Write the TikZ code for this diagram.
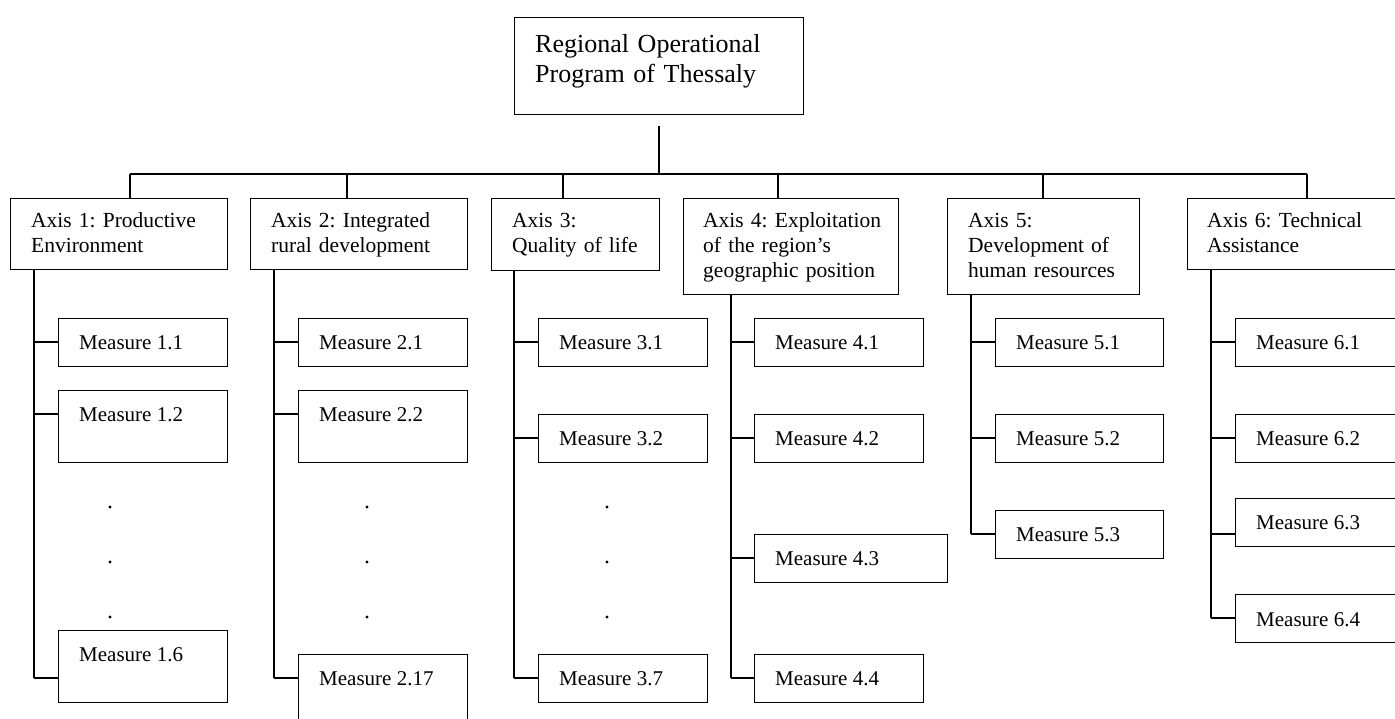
\documentclass[tikz,border=0pt]{standalone}
\usepackage{fontspec}
\setmainfont{Liberation Serif}
\frenchspacing
\begin{document}
\begin{tikzpicture}[x=1pt,y=-1pt,
  box/.style={draw, rectangle, line width=1.3pt, inner sep=0pt, anchor=north west},
  wire/.style={line width=1.3pt},
  roottext/.style={anchor=base west, inner sep=0pt, align=left, text width=280pt,
    font=\fontsize{26}{30}\selectfont},
  axistext/.style={anchor=base west, inner sep=0pt, align=left, text width=200pt,
    font=\fontsize{21.5}{25}\selectfont},
  mtext/.style={anchor=base west, inner sep=0pt, font=\fontsize{21}{25}\selectfont}]
\useasboundingbox (0,0) rectangle (1395,719);
\clip (0,0) rectangle (1395,719);

% box given by its corners: name, x1, y1, x2, y2
\newcommand\mkbox[5]{\node[box, minimum width={#4-#2}, minimum height={#5-#3}] (#1) at (#2,#3) {};}
% measure: name, x1, y1, x2, y2, branch y, text baseline, label, spine
\newcommand\measure[9]{%
  \mkbox{#1}{#2}{#3}{#4}{#5}
  \node[mtext] (#1t) at (#2+21,#7) {#8};
  \draw[wire] (#1.west |- 0,#6) -- (#9 |- 0,#6);}

% root
\mkbox{root}{514}{17}{803}{114}
\node[roottext] (roott) at (535,53) {Regional Operational\\Program of Thessaly};

% axes
\mkbox{a1}{10}{198}{227}{269}
\node[axistext] (a1t) at (31,228) {Axis 1: Productive\\Environment};
\mkbox{a2}{250}{198}{467}{269}
\node[axistext] (a2t) at (271,228) {Axis 2: Integrated\\rural development};
\mkbox{a3}{491}{198}{659}{270}
\node[axistext] (a3t) at (512,228) {Axis 3:\\Quality of life};
\mkbox{a4}{683}{198}{898}{294}
\node[axistext] (a4t) at (703,228) {Axis 4: Exploitation\\of the region’s\\geographic position};
\mkbox{a5}{947}{198}{1139}{294}
\node[axistext] (a5t) at (968,228) {Axis 5:\\Development of\\human resources};
\mkbox{a6}{1187}{198}{1420}{269}
\node[axistext] (a6t) at (1207,228) {Axis 6: Technical\\Assistance};

% tree from root to axes
\coordinate (stem) at (659,126);
\coordinate (bar) at (659,174);
\coordinate (d1) at (130,174);
\coordinate (d2) at (347,174);
\coordinate (d3) at (563,174);
\coordinate (d4) at (778,174);
\coordinate (d5) at (1043,174);
\coordinate (d6) at (1307,174);
\draw[wire] (stem) -- (bar);
\draw[wire] (d1) -- (d6);
\foreach \i in {1,...,6} \draw[wire] (d\i) -- (d\i |- a\i.north);

% spines
\coordinate (s1) at (34,0);
\coordinate (s2) at (274,0);
\coordinate (s3) at (514,0);
\coordinate (s4) at (731,0);
\coordinate (s5) at (971,0);
\coordinate (s6) at (1211,0);
\draw[wire] (a1.south -| s1) -- (s1 |- 0,678);
\draw[wire] (a2.south -| s2) -- (s2 |- 0,678);
\draw[wire] (a3.south -| s3) -- (s3 |- 0,678);
\draw[wire] (a4.south -| s4) -- (s4 |- 0,678);
\draw[wire] (a5.south -| s5) -- (s5 |- 0,534);
\draw[wire] (a6.south -| s6) -- (s6 |- 0,618);

% axis 1
\measure{m11}{58}{318}{227}{366}{342}{349}{Measure 1.1}{s1}
\measure{m12}{58}{390}{227}{462}{414}{421}{Measure 1.2}{s1}
\measure{m16}{58}{630}{227}{702}{678}{661}{Measure 1.6}{s1}
% axis 2
\measure{m21}{298}{318}{467}{366}{342}{349}{Measure 2.1}{s2}
\measure{m22}{298}{390}{467}{462}{414}{421}{Measure 2.2}{s2}
\measure{m217}{298}{654}{467}{735}{678}{685}{Measure 2.17}{s2}
% axis 3
\measure{m31}{538}{318}{707}{366}{342}{349}{Measure 3.1}{s3}
\measure{m32}{538}{414}{707}{462}{438}{445}{Measure 3.2}{s3}
\measure{m37}{538}{654}{707}{702}{678}{685}{Measure 3.7}{s3}
% axis 4
\measure{m41}{754}{318}{923}{366}{342}{349}{Measure 4.1}{s4}
\measure{m42}{754}{414}{923}{462}{438}{445}{Measure 4.2}{s4}
\measure{m43}{754}{534}{947}{582}{558}{565}{Measure 4.3}{s4}
\measure{m44}{754}{654}{923}{702}{678}{685}{Measure 4.4}{s4}
% axis 5
\measure{m51}{995}{318}{1163}{366}{342}{349}{Measure 5.1}{s5}
\measure{m52}{995}{414}{1163}{462}{438}{445}{Measure 5.2}{s5}
\measure{m53}{995}{510}{1163}{558}{534}{541}{Measure 5.3}{s5}
% axis 6
\measure{m61}{1235}{318}{1420}{366}{342}{349}{Measure 6.1}{s6}
\measure{m62}{1235}{414}{1420}{462}{438}{445}{Measure 6.2}{s6}
\measure{m63}{1235}{498}{1420}{546}{534}{529}{Measure 6.3}{s6}
\measure{m64}{1235}{594}{1420}{642}{618}{626}{Measure 6.4}{s6}

% omitted measures
\foreach \x in {110,367,607}
  \foreach \y in {507,562,617}
    \fill (\x,\y) circle (1.6);
\end{tikzpicture}
\end{document}
